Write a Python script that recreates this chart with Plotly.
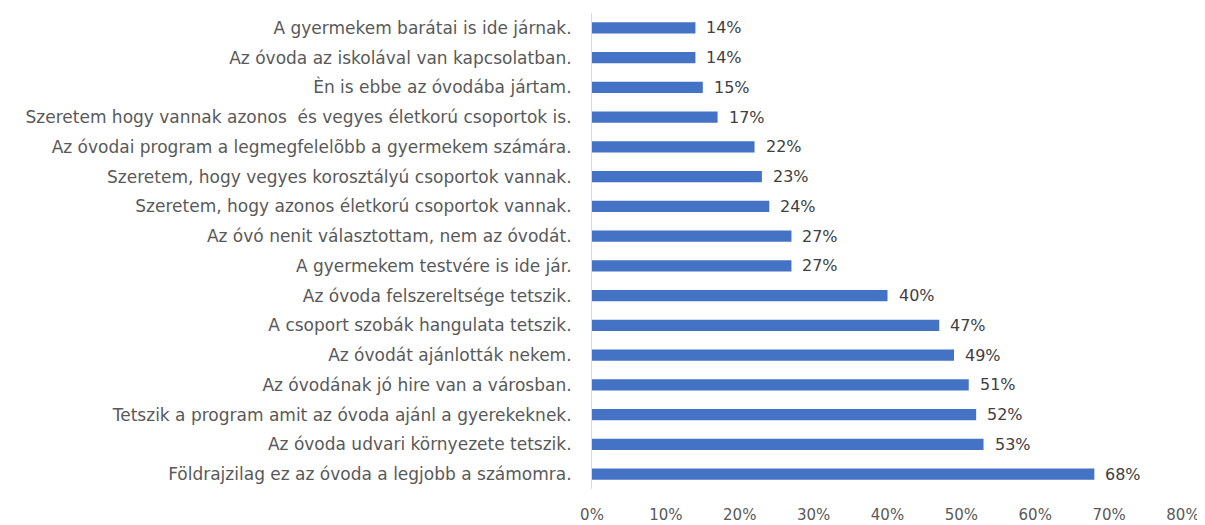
import plotly.graph_objects as go

categories = [
    "A gyermekem barátai is ide járnak.",
    "Az óvoda az iskolával van kapcsolatban.",
    "Èn is ebbe az óvodába jártam.",
    "Szeretem hogy vannak azonos  és vegyes életkorú csoportok is.",
    "Az óvodai program a legmegfelelõbb a gyermekem számára.",
    "Szeretem, hogy vegyes korosztályú csoportok vannak.",
    "Szeretem, hogy azonos életkorú csoportok vannak.",
    "Az óvó nenit választottam, nem az óvodát.",
    "A gyermekem testvére is ide jár.",
    "Az óvoda felszereltsége tetszik.",
    "A csoport szobák hangulata tetszik.",
    "Az óvodát ajánlották nekem.",
    "Az óvodának jó hire van a városban.",
    "Tetszik a program amit az óvoda ajánl a gyerekeknek.",
    "Az óvoda udvari környezete tetszik.",
    "Földrajzilag ez az óvoda a legjobb a számomra.",
]
values = [0.14, 0.14, 0.15, 0.17, 0.22, 0.23, 0.24, 0.27, 0.27, 0.40, 0.47, 0.49, 0.51, 0.52, 0.53, 0.68]
x_ticks = [0, 0.1, 0.2, 0.3, 0.4, 0.5, 0.6, 0.7, 0.8]
x_tick_labels = ["0%", "10%", "20%", "30%", "40%", "50%", "60%", "70%", "80%"]

FONT = "DejaVu Sans"
fig = go.Figure()
fig.add_trace(go.Bar(
    x=values, y=categories, orientation="h",
    marker=dict(color="#4472C4", line=dict(width=0)),
    width=0.37,
))
for c, v in zip(categories, values):
    fig.add_annotation(x=v, y=c, text=f"{round(v*100)}%", showarrow=False,
                       xanchor="left", xshift=9,
                       font=dict(family=FONT, size=16, color="#404040"))

fig.update_layout(
    width=1205, height=525,
    margin=dict(l=584, r=30, t=5, b=44),
    paper_bgcolor="white", plot_bgcolor="white",
    showlegend=False,
    xaxis=dict(range=[0, 0.8], tickvals=x_ticks, ticktext=x_tick_labels,
               showgrid=False, zeroline=False, showline=False, automargin=False,
               ticks="outside", ticklen=12, tickcolor="rgba(0,0,0,0)",
               tickfont=dict(family=FONT, size=15, color="#595959")),
    yaxis=dict(autorange="reversed", showgrid=False, showline=True, automargin=False,
               linecolor="#d9d9d9", linewidth=1,
               ticks="outside", ticklen=16, tickcolor="rgba(0,0,0,0)",
               tickfont=dict(family=FONT, size=17, color="#595959")),
)
fig.write_html("out.html")
